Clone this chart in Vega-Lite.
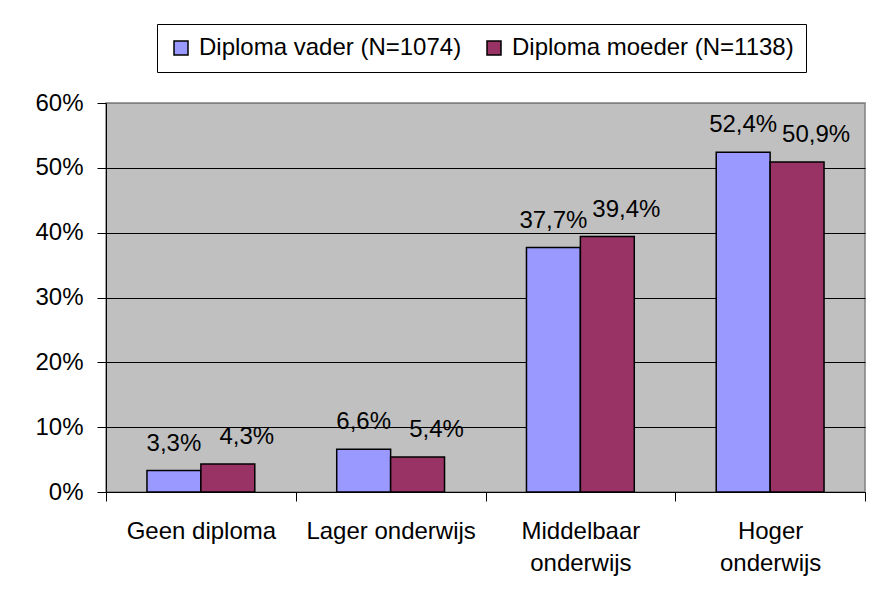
{
  "$schema": "https://vega.github.io/schema/vega-lite/v6.json",
  "width": 759,
  "height": 389,
  "autosize": {"type": "none"},
  "padding": {"left": 106, "top": 103, "right": 7, "bottom": 113},
  "background": "white",
  "config": {
    "font": "Liberation Sans",
    "locale": {"number": {"decimal": ",", "thousands": ".", "grouping": [3], "currency": ["€ ", ""]}},
    "view": {"fill": "#C0C0C0", "stroke": "#808080", "strokeWidth": 1.5}
  },
  "data": {
    "values": [
      {"niveau": "Geen diploma", "ouder": "Diploma vader (N=1074)", "pct": 0.033},
      {"niveau": "Geen diploma", "ouder": "Diploma moeder (N=1138)", "pct": 0.043},
      {"niveau": "Lager onderwijs", "ouder": "Diploma vader (N=1074)", "pct": 0.066},
      {"niveau": "Lager onderwijs", "ouder": "Diploma moeder (N=1138)", "pct": 0.054},
      {"niveau": "Middelbaar onderwijs", "ouder": "Diploma vader (N=1074)", "pct": 0.377},
      {"niveau": "Middelbaar onderwijs", "ouder": "Diploma moeder (N=1138)", "pct": 0.394},
      {"niveau": "Hoger onderwijs", "ouder": "Diploma vader (N=1074)", "pct": 0.524},
      {"niveau": "Hoger onderwijs", "ouder": "Diploma moeder (N=1138)", "pct": 0.509}
    ]
  },
  "encoding": {
    "x": {
      "field": "niveau",
      "type": "nominal",
      "sort": ["Geen diploma", "Lager onderwijs", "Middelbaar onderwijs", "Hoger onderwijs"],
      "scale": {"paddingInner": 0, "paddingOuter": 0},
      "axis": {
        "title": null,
        "labelAngle": 0,
        "labelFontSize": 24,
        "labelColor": "black",
        "labelLimit": 250,
        "labelPadding": 18,
        "labelLineHeight": 32,
        "labelBaseline": "top",
        "labelExpr": "datum.value == 'Middelbaar onderwijs' || datum.value == 'Hoger onderwijs' ? split(datum.value, ' ') : datum.value",
        "domainColor": "black",
        "domainWidth": 1,
        "tickColor": "black",
        "tickSize": 9,
        "tickBand": "extent"
      }
    },
    "xOffset": {
      "field": "ouder",
      "type": "nominal",
      "sort": ["Diploma vader (N=1074)", "Diploma moeder (N=1138)"],
      "scale": {"paddingInner": 0, "paddingOuter": 0.76}
    },
    "y": {
      "field": "pct",
      "type": "quantitative",
      "scale": {"domain": [0, 0.6]},
      "axis": {
        "title": null,
        "values": [0, 0.1, 0.2, 0.3, 0.4, 0.5, 0.6],
        "format": ".0%",
        "labelFontSize": 24,
        "labelColor": "black",
        "labelPadding": 14,
        "tickSize": 9,
        "tickColor": "black",
        "domainColor": "black",
        "grid": true,
        "gridColor": {"condition": {"test": "datum.value >= 0.6", "value": "#808080"}, "value": "black"},
        "gridWidth": 1.2
      }
    }
  },
  "layer": [
    {
      "mark": {"type": "bar", "stroke": "black", "strokeWidth": 1.5},
      "encoding": {
        "color": {
          "field": "ouder",
          "type": "nominal",
          "sort": ["Diploma vader (N=1074)", "Diploma moeder (N=1138)"],
          "scale": {"range": ["#9999FF", "#993366"]},
          "legend": {
            "orient": "none",
            "legendX": 51,
            "legendY": -79,
            "direction": "horizontal",
            "columns": 2,
            "title": null,
            "symbolType": "square",
            "symbolSize": 196,
            "symbolStrokeColor": "black",
            "symbolStrokeWidth": 1.5,
            "symbolOpacity": 1,
            "labelFontSize": 24,
            "labelColor": "black",
            "labelLimit": 400,
            "labelOffset": 6,
            "columnPadding": 20,
            "padding": 12,
            "strokeColor": "black",
            "fillColor": "white"
          }
        }
      }
    },
    {
      "transform": [{"filter": "datum.ouder == 'Diploma vader (N=1074)'"}],
      "mark": {"type": "text", "baseline": "alphabetic", "dy": -20, "fontSize": 24, "color": "black"},
      "encoding": {"text": {"field": "pct", "type": "quantitative", "format": ".1%"}}
    },
    {
      "transform": [{"filter": "datum.ouder == 'Diploma moeder (N=1138)'"}],
      "mark": {"type": "text", "baseline": "alphabetic", "dy": -20, "dx": 19, "fontSize": 24, "color": "black"},
      "encoding": {"text": {"field": "pct", "type": "quantitative", "format": ".1%"}}
    }
  ]
}
